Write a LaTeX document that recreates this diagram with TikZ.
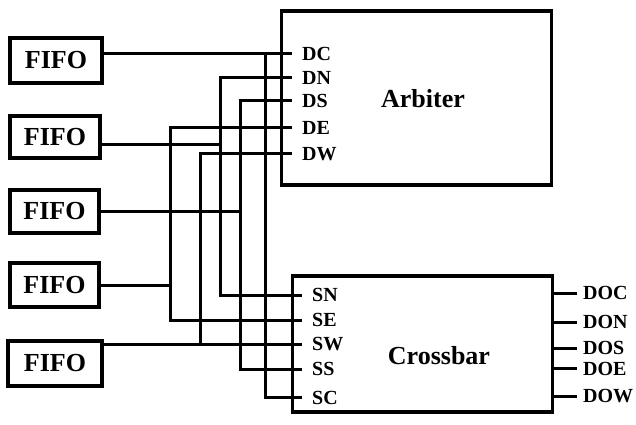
\documentclass[tikz,border=0pt]{standalone}
\usepackage{fontspec}
\setmainfont{Liberation Serif}
\begin{document}
\begin{tikzpicture}[x=1pt,y=-1pt,
  fifo/.style={draw, line width=3.5pt, inner sep=0pt, font=\fontsize{26}{30}\selectfont\bfseries},
  blk/.style={draw, line width=3.5pt, inner sep=0pt},
  title/.style={inner sep=0pt, font=\fontsize{26}{30}\selectfont\bfseries},
  port/.style={anchor=west, inner sep=0pt, font=\fontsize{20}{22}\selectfont\bfseries},
  wire/.style={line width=3pt}]
\useasboundingbox[fill=white] (0,0) rectangle (636,424);

% FIFO boxes
\node[fifo, minimum width=92pt, minimum height=45pt] (f1) at (56,60.5) {FIFO};
\node[fifo, minimum width=90pt, minimum height=42pt] (f2) at (55,137) {FIFO};
\node[fifo, minimum width=89pt, minimum height=43pt] (f3) at (54.5,211.5) {FIFO};
\node[fifo, minimum width=89pt, minimum height=44pt] (f4) at (54.5,285) {FIFO};
\node[fifo, minimum width=94pt, minimum height=45pt] (f5) at (55,363.5) {FIFO};

% Arbiter and Crossbar
\node[blk, minimum width=270pt, minimum height=174pt] (arb) at (416.5,98) {};
\node[title] (arbt) at (423,99) {Arbiter};
\node[blk, minimum width=260pt, minimum height=136pt] (xb) at (422.5,344) {};
\node[title] (xbt) at (439,356) {Crossbar};

% port end points
\coordinate (pDC) at (292,53);
\coordinate (pDN) at (292,77);
\coordinate (pDS) at (292,100);
\coordinate (pDE) at (292,127);
\coordinate (pDW) at (292,153);
\coordinate (pSN) at (302,295);
\coordinate (pSE) at (302,320);
\coordinate (pSW) at (302,344);
\coordinate (pSS) at (302,369);
\coordinate (pSC) at (302,397);
\coordinate (qDOC) at (577,293);
\coordinate (qDON) at (577,322);
\coordinate (qDOS) at (577,348);
\coordinate (qDOE) at (577,368);
\coordinate (qDOW) at (577,396);

% port labels
\node[port] (lDC) at (302,54) {DC};
\node[port] (lDN) at (302,78) {DN};
\node[port] (lDS) at (302,101) {DS};
\node[port] (lDE) at (302,128) {DE};
\node[port] (lDW) at (302,154) {DW};
\node[port] (lSN) at (312,295) {SN};
\node[port] (lSE) at (312,320) {SE};
\node[port] (lSW) at (312,344) {SW};
\node[port] (lSS) at (312,369) {SS};
\node[port] (lSC) at (312,398) {SC};
\node[port] (lDOC) at (583,293) {DOC};
\node[port] (lDON) at (583,322) {DON};
\node[port] (lDOS) at (583,348) {DOS};
\node[port] (lDOE) at (583,369) {DOE};
\node[port] (lDOW) at (583,396) {DOW};

% bus corner points
\coordinate (b1t) at (265,53);  \coordinate (b1b) at (265,397);
\coordinate (b2t) at (220,77);  \coordinate (b2b) at (220,295); \coordinate (j2) at (220,144);
\coordinate (b3t) at (240,100); \coordinate (b3b) at (240,369); \coordinate (j3) at (240,211);
\coordinate (b4t) at (170,127); \coordinate (b4b) at (170,320); \coordinate (j4) at (170,285);
\coordinate (b5t) at (200,153); \coordinate (b5b) at (200,344);

% FIFO 1 -> DC, SC
\draw[wire] (f1.east |- pDC) -- (pDC);
\draw[wire] (b1t) -- (b1b) -- (pSC);
% FIFO 2 -> DN, SN
\draw[wire] (pDN) -- (b2t) -- (b2b) -- (pSN);
\draw[wire] (f2.east |- j2) -- (j2);
% FIFO 3 -> DS, SS
\draw[wire] (pDS) -- (b3t) -- (b3b) -- (pSS);
\draw[wire] (f3.east |- j3) -- (j3);
% FIFO 4 -> DE, SE
\draw[wire] (pDE) -- (b4t) -- (b4b) -- (pSE);
\draw[wire] (f4.east |- j4) -- (j4);
% FIFO 5 -> DW, SW
\draw[wire] (pDW) -- (b5t) -- (b5b);
\draw[wire] (f5.east |- pSW) -- (pSW);

% crossbar outputs
\draw[wire] (xb.east |- qDOC) -- (qDOC);
\draw[wire] (xb.east |- qDON) -- (qDON);
\draw[wire] (xb.east |- qDOS) -- (qDOS);
\draw[wire] (xb.east |- qDOE) -- (qDOE);
\draw[wire] (xb.east |- qDOW) -- (qDOW);
\end{tikzpicture}
\end{document}
